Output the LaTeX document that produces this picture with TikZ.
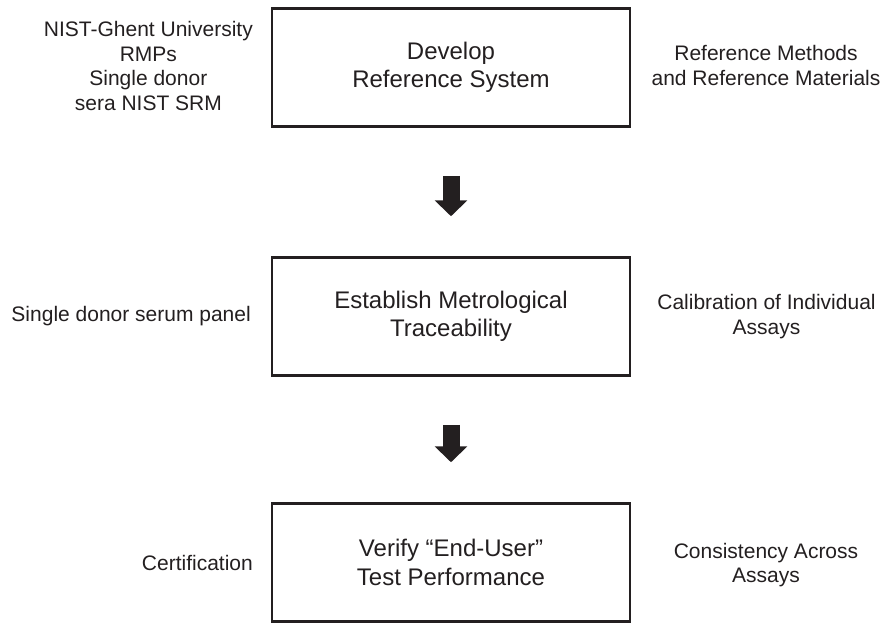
\documentclass[tikz,border=0pt]{standalone}
\usepackage{fontspec}
\setmainfont{Liberation Sans}
\usetikzlibrary{arrows.meta}
\definecolor{ink}{HTML}{231F20}
\begin{document}
\begin{tikzpicture}[x=1pt,y=-1pt,
  stage/.style={draw=ink, line width=2.5pt, minimum width=358pt, minimum height=118pt,
    align=center, font=\fontsize{24}{28.5}\selectfont, text=ink, inner sep=0pt},
  side/.style={align=center, font=\fontsize{21}{24.5}\selectfont, text=ink, inner sep=0pt},
  flow/.style={draw=ink, line width=17pt, -{Triangle[width=32pt,length=16pt]},
    shorten <=48pt, shorten >=40pt}]
\useasboundingbox (0,0) rectangle (885,623);

\node[stage] (s1) at (451,67.5) {Develop\\Reference System};
\node[stage] (s2) at (451,316.5) {Establish Metrological\\Traceability};
\node[stage] (s3) at (451,562.5) {Verify “End-User”\\Test Performance};

\node[side, anchor=east] (l1) at (253,66) {NIST-Ghent University\\RMPs\\Single donor\\sera NIST SRM};
\node[side, anchor=east] (l2) at (251,316.3) {Single donor serum panel};
\node[side, anchor=east] (l3) at (253,563) {Certification};

\node[side] (r1) at (766,65.5) {Reference Methods\\and Reference Materials};
\node[side] (r2) at (766.5,316.4) {Calibration of Individual\\Assays};
\node[side] (r3) at (766,565) {Consistency Across\\Assays};

\draw[flow] (s1) -- (s2);
\draw[flow] (s2) -- (s3);
\end{tikzpicture}
\end{document}
